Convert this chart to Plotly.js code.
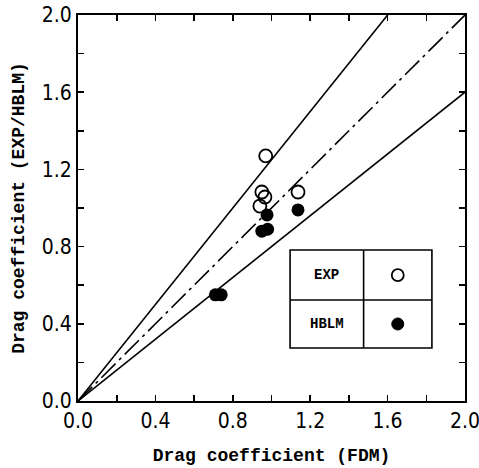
<!DOCTYPE html>
<html>
<head>
<meta charset="utf-8">
<script src="https://cdn.plot.ly/plotly-3.0.1.min.js"></script>
<style>
  html, body { margin: 0; padding: 0; background: #fff; }
  #chart { width: 479px; height: 468px; }
</style>
</head>
<body>
<div id="chart"></div>
<script>
// Measured drag coefficients (EXP) and model results (HBLM) against FDM
const expFdm  = [0.97, 0.95, 0.966, 0.94, 1.137];
const expVal  = [1.27, 1.083, 1.057, 1.01, 1.083];
const hblmFdm = [0.71, 0.74, 0.95, 0.98, 0.977, 1.137];
const hblmVal = [0.55, 0.55, 0.88, 0.89, 0.964, 0.99];

// Reference lines y = k * x  (+25 %, equality, -20 %)
const refSlopes = [1.25, 1.0, 0.8];
const refDashes = ['solid', '20px,5px,3px,5px', 'solid'];
const refX = [0, 2];

const tickVals = [0, 0.4, 0.8, 1.2, 1.6, 2.0];
const tickText = ['0.0', '0.4', '0.8', '1.2', '1.6', '2.0'];

const traces = [];
refSlopes.forEach((k, i) => {
  traces.push({
    x: refX, y: refX.map(v => v * k),
    mode: 'lines', type: 'scatter',
    line: { color: '#000', width: 1.6, dash: refDashes[i] },
    hoverinfo: 'skip', showlegend: false
  });
});
traces.push({
  x: expFdm, y: expVal, mode: 'markers', type: 'scatter', name: 'EXP',
  marker: { symbol: 'circle-open', size: 13, color: '#000', line: { width: 1.8, color: '#000' } },
  showlegend: false, cliponaxis: false
});
traces.push({
  x: hblmFdm, y: hblmVal, mode: 'markers', type: 'scatter', name: 'HBLM',
  marker: { symbol: 'circle', size: 13, color: '#000' },
  showlegend: false, cliponaxis: false
});

const tickFont = { family: 'DejaVu Sans Condensed, Liberation Sans Narrow, sans-serif', size: 21, color: '#000' };
const titleFont = { family: 'Liberation Mono, DejaVu Sans Mono, monospace', size: 18, color: '#000', weight: 'bold' };

const axisBase = {
  range: [0, 2], tickvals: tickVals, ticktext: tickText,
  ticks: 'inside', ticklen: 6, tickwidth: 1.6, tickcolor: '#000',
  minor: { dtick: 0.2, ticks: 'inside', ticklen: 6, tickwidth: 1.6, tickcolor: '#000' },
  showline: true, linecolor: '#000', linewidth: 2, mirror: 'allticks',
  showgrid: false, zeroline: false, tickfont: tickFont, fixedrange: true,
  ticklabeloverflow: 'allow'
};

// Key table: two rows (EXP, HBLM), label cell and symbol cell
const box = { x0: 1.096, x1: 1.829, y0: 0.275, y1: 0.782, xm: 1.476, ym: 0.523 };
const shapes = [
  { type: 'rect', xref: 'x', yref: 'y', x0: box.x0, x1: box.x1, y0: box.y0, y1: box.y1,
    line: { color: '#000', width: 1.6 }, fillcolor: '#fff', layer: 'above' },
  { type: 'line', xref: 'x', yref: 'y', x0: box.xm, x1: box.xm, y0: box.y0, y1: box.y1,
    line: { color: '#000', width: 1.6 } },
  { type: 'line', xref: 'x', yref: 'y', x0: box.x0, x1: box.x1, y0: box.ym, y1: box.ym,
    line: { color: '#000', width: 1.6 } },
  { type: 'circle', xref: 'x', yref: 'y', xsizemode: 'pixel', ysizemode: 'pixel',
    xanchor: (box.xm + box.x1) / 2, yanchor: (box.ym + box.y1) / 2,
    x0: -6, x1: 6, y0: -6, y1: 6, line: { color: '#000', width: 1.8 }, fillcolor: '#fff' },
  { type: 'circle', xref: 'x', yref: 'y', xsizemode: 'pixel', ysizemode: 'pixel',
    xanchor: (box.xm + box.x1) / 2, yanchor: (box.y0 + box.ym) / 2,
    x0: -6, x1: 6, y0: -6, y1: 6, line: { color: '#000', width: 1 }, fillcolor: '#000' }
];
const keyFont = { family: 'Liberation Mono, DejaVu Sans Mono, monospace', size: 14, color: '#000', weight: 'bold' };
const annotations = [
  { x: (box.x0 + box.xm) / 2, y: (box.ym + box.y1) / 2, xref: 'x', yref: 'y', text: 'EXP', showarrow: false, font: keyFont },
  { x: (box.x0 + box.xm) / 2, y: (box.y0 + box.ym) / 2, xref: 'x', yref: 'y', text: 'HBLM', showarrow: false, font: keyFont }
];

const layout = {
  width: 479, height: 468,
  margin: { l: 78, r: 14, t: 15, b: 67 },
  paper_bgcolor: '#fff', plot_bgcolor: '#fff',
  xaxis: Object.assign({}, axisBase, {
    title: { text: 'Drag coefficient (FDM)', font: titleFont, standoff: 16 }
  }),
  yaxis: Object.assign({}, axisBase, {
    title: { text: 'Drag coefficient (EXP/HBLM)', font: titleFont, standoff: 12 }
  }),
  shapes: shapes, annotations: annotations, showlegend: false
};

Plotly.newPlot('chart', traces, layout, { displayModeBar: false, staticPlot: true });
</script>
</body>
</html>
